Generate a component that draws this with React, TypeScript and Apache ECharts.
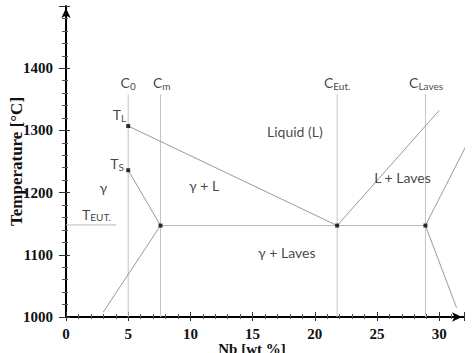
import React, { useEffect, useRef } from "react";
import * as echarts from "echarts";

// Axis ranges / ticks
const xTicks = [0, 5, 10, 15, 20, 25, 30];
const yTicks = [1000, 1100, 1200, 1300, 1400];

// Characteristic compositions (wt% Nb) with vertical guide lines
const compositionX = [5, 7.6, 21.8, 28.9];
const guideBottom = 1000;
const guideTop = 1358;

// Key points (markers)
const markerX = [5, 5, 7.6, 21.8, 28.9];
const markerT = [1307, 1236, 1147, 1147, 1147];

// Phase boundary lines [wt%, °C]
const liquidusGamma = [[5, 1307], [21.8, 1147]];
const solidusGamma = [[5, 1236], [7.6, 1147]];
const solvusGamma = [[7.6, 1147], [3.0, 1008]];
const eutecticLine = [[7.6, 1147], [28.9, 1147]];
const tEutLine = [[0, 1148], [4.05, 1148]];
const liquidusLaves = [[21.8, 1147], [30.0, 1332]];
const lavesUpper = [[28.9, 1147], [32.8, 1300]];
const lavesLower = [[28.9, 1147], [31.4, 1015]];

// Annotation labels
const labelText = [
  "{b|C}{s|0}",
  "{b|C}{s|m}",
  "{b|C}{s|Eut.}",
  "{b|C}{s|Laves}",
  "{b|T}{s|L}",
  "{b|T}{s|S}",
  "{b|γ}",
  "{b|T}{s|EUT.}",
  "{b|Liquid (L)}",
  "{b|γ + L}",
  "{b|L + Laves}",
  "{b|γ + Laves}",
];
const labelX = [5.0, 7.7, 21.8, 28.95, 4.3, 4.1, 3.0, 2.45, 18.4, 11.1, 27.05, 17.75];
const labelT = [1377, 1377, 1377, 1377, 1325, 1246, 1209, 1165, 1298, 1212, 1225, 1104];

const serif = "'Liberation Serif', 'Times New Roman', serif";
const sans = "Lato, 'Open Sans', 'DejaVu Sans', sans-serif";
const ink = "#111";

export default function App() {
  const ref = useRef<HTMLDivElement>(null);
  useEffect(() => {
    if (!ref.current) return;
    const chart = echarts.init(ref.current, undefined, { renderer: "svg" });
    const thin = (data: number[][], color = "#9a9a9a") => ({
      type: "line",
      data,
      symbol: "none",
      clip: false,
      silent: true,
      lineStyle: { color, width: 1 },
      z: 2,
    });
    const guides = compositionX.map((x) =>
      thin([[x, guideBottom], [x, guideTop]], "#c4c4c4")
    );
    const axisCommonX = {
      type: "value",
      min: 0,
      max: 32,
      interval: 5,
      position: "bottom",
      splitLine: { show: false },
    };
    const axisCommonY = {
      type: "value",
      min: 1000,
      max: 1500,
      interval: 100,
      position: "left",
      splitLine: { show: false },
    };
    chart.setOption({
      animation: false,
      grid: {
        left: 66,
        right: 10,
        top: 6,
        bottom: 36,
        containLabel: false,
        outerBoundsMode: "none",
      },
      xAxis: [
        {
          ...axisCommonX,
          name: "Nb [wt %]",
          nameLocation: "middle",
          nameGap: 24,
          nameMoveOverlap: false,
          nameTextStyle: {
            fontFamily: serif,
            fontWeight: "bold",
            fontSize: 15,
            color: ink,
            padding: [0, 26, 0, 0],
          },
          axisLine: {
            onZero: false,
            lineStyle: { color: "#000", width: 2 },
            symbol: ["none", "arrow"],
            symbolSize: [7, 10],
            symbolOffset: [0, -2],
          },
          axisTick: { show: true, inside: false, length: 4, lineStyle: { color: "#333" } },
          minorTick: { show: true, splitNumber: 5, length: 2, lineStyle: { color: "#555" } },
          axisLabel: {
            fontFamily: serif,
            fontWeight: "bold",
            fontSize: 15,
            color: ink,
            margin: 9,
            formatter: (v: number) => (xTicks.includes(v) ? String(v) : ""),
          },
        },
        {
          ...axisCommonX,
          axisLine: { show: false, onZero: false },
          axisTick: { show: true, inside: true, length: 5, lineStyle: { color: "#333" } },
          minorTick: { show: true, splitNumber: 5, length: 3, lineStyle: { color: "#555" } },
          axisLabel: { show: false },
        },
      ],
      yAxis: [
        {
          ...axisCommonY,
          name: "Temperature [°C]",
          nameLocation: "middle",
          nameGap: 41,
          nameMoveOverlap: false,
          nameRotate: 90,
          nameTextStyle: {
            fontFamily: serif,
            fontWeight: "bold",
            fontSize: 17,
            color: ink,
          },
          axisLine: {
            onZero: false,
            lineStyle: { color: "#000", width: 2 },
            symbol: ["none", "arrow"],
            symbolSize: [7, 10],
            symbolOffset: [0, -2],
          },
          axisTick: { show: true, inside: false, length: 7, lineStyle: { color: "#333" } },
          minorTick: { show: true, splitNumber: 5, length: 4, lineStyle: { color: "#555" } },
          axisLabel: {
            fontFamily: serif,
            fontWeight: "bold",
            fontSize: 15,
            color: ink,
            margin: 13,
            showMaxLabel: false,
            formatter: (v: number) => (yTicks.includes(v) ? String(v) : ""),
          },
        },
        {
          ...axisCommonY,
          axisLine: { show: false, onZero: false },
          axisTick: { show: true, inside: true, length: 4, lineStyle: { color: "#333" } },
          minorTick: { show: true, splitNumber: 5, length: 2, lineStyle: { color: "#555" } },
          axisLabel: { show: false },
        },
      ],
      series: [
        ...guides,
        thin(liquidusGamma),
        thin(solidusGamma),
        thin(solvusGamma),
        thin(eutecticLine, "#b8b8b8"),
        thin(tEutLine, "#b8b8b8"),
        thin(liquidusLaves),
        thin(lavesUpper),
        thin(lavesLower),
        {
          type: "scatter",
          data: markerX.map((x, i) => [x, markerT[i]]),
          symbol: "rect",
          symbolSize: 4,
          itemStyle: { color: "#000" },
          silent: true,
          z: 5,
        },
        {
          type: "scatter",
          data: labelX.map((x, i) => ({
            value: [x, labelT[i]],
            label: { formatter: labelText[i] },
          })),
          symbolSize: 0,
          itemStyle: { color: ink },
          silent: true,
          z: 6,
          label: {
            show: true,
            position: "inside",
            align: "center",
            verticalAlign: "middle",
            color: ink,
            textBorderWidth: 0,
            rich: {
              b: {
                fontFamily: sans,
                fontSize: 14,
                lineHeight: 16,
                color: ink,
                textBorderWidth: 0,
              },
              s: {
                fontFamily: sans,
                fontSize: 10,
                lineHeight: 8,
                verticalAlign: "bottom",
                color: ink,
                textBorderWidth: 0,
              },
            },
          },
        },
      ],
    });
    return () => chart.dispose();
  }, []);
  return (
    <div
      ref={ref}
      style={{ position: "fixed", left: 0, top: 0, width: 474, height: 353, background: "#fff" }}
    />
  );
}
